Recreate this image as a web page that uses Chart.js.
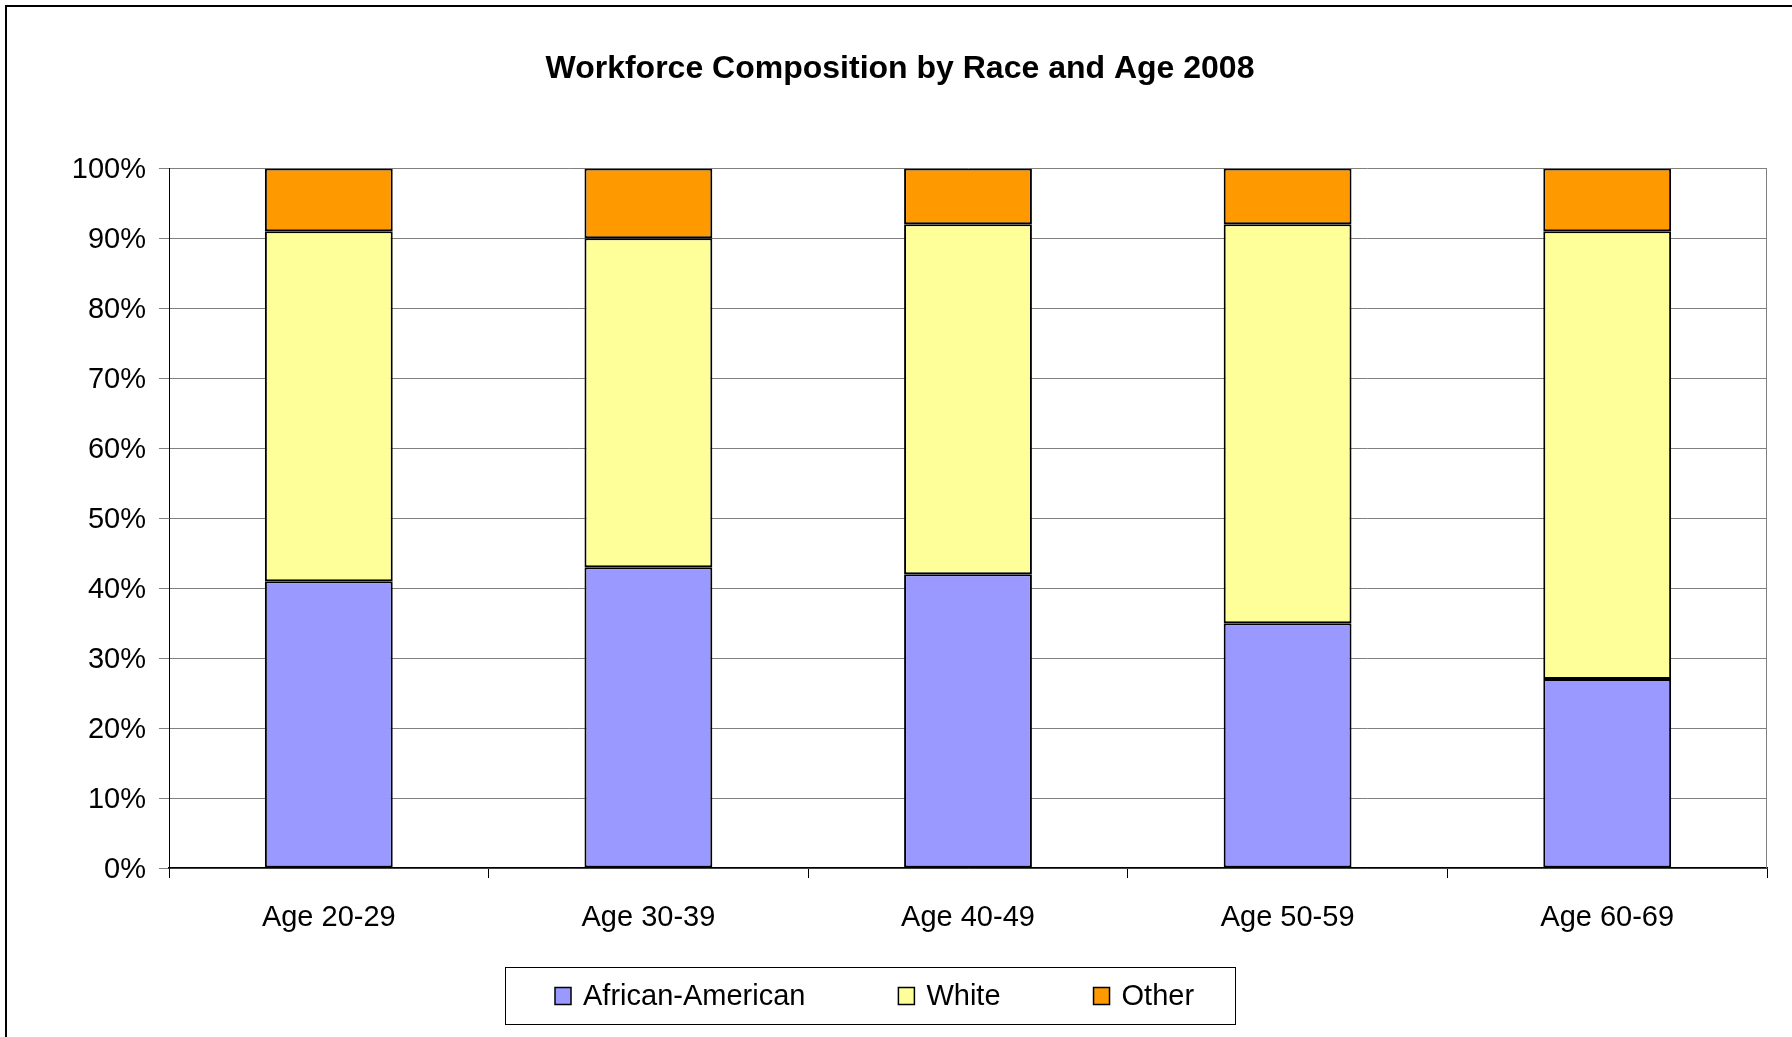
<!DOCTYPE html>
<html><head><meta charset="utf-8">
<script src="https://cdn.jsdelivr.net/npm/chart.js@4.4.1/dist/chart.umd.min.js"></script>
<style>html,body{margin:0;padding:0;background:#fff;overflow:hidden}#wrap{position:relative;width:1792px;height:1037px}</style>
</head><body><div id="wrap"><canvas id="c" width="1792" height="1037"></canvas></div>
<script>
const categories = ['Age 20-29', 'Age 30-39', 'Age 40-49', 'Age 50-59', 'Age 60-69'];
const seriesNames = ['African-American', 'White', 'Other'];
const africanAmerican = [41, 43, 42, 35, 27];
const white = [50, 47, 50, 57, 64];
const other = [9, 10, 8, 8, 9];
const seriesColors = ['#9999FF', '#FFFF99', '#FF9900'];
const titleText = 'Workforce Composition by Race and Age 2008';

const FONT = '"Liberation Sans", Arial, Helvetica, sans-serif';

const framePlugin = {
  id: 'frame',
  beforeDraw(chart) {
    const ctx = chart.ctx;
    ctx.save();
    ctx.fillStyle = '#fff';
    ctx.fillRect(0, 0, chart.width, chart.height);
    ctx.strokeStyle = '#000';
    ctx.lineWidth = 2;
    ctx.beginPath();
    ctx.moveTo(6, chart.height + 5);
    ctx.lineTo(6, 6);
    ctx.lineTo(chart.width + 5, 6);
    ctx.stroke();
    ctx.restore();
  },
  afterDraw(chart) {
    const ctx = chart.ctx;
    const a = chart.chartArea;
    ctx.save();
    // right edge of plot area
    ctx.strokeStyle = '#808080';
    ctx.lineWidth = 1;
    ctx.beginPath();
    ctx.moveTo(Math.round(a.right) - 0.5, a.top);
    ctx.lineTo(Math.round(a.right) - 0.5, a.bottom);
    ctx.stroke();
    // legend
    const lx = 505, ly = 967, lw = 730, lh = 57;
    ctx.strokeStyle = '#000';
    ctx.lineWidth = 1;
    ctx.strokeRect(lx + 0.5, ly + 0.5, lw, lh);
    ctx.font = '29px ' + FONT;
    ctx.textBaseline = 'middle';
    ctx.textAlign = 'left';
    let x = 555;
    const cy = ly + lh / 2 + 0.5;
    chart.data.datasets.forEach((ds) => {
      ctx.fillStyle = ds.backgroundColor;
      ctx.fillRect(x, cy - 8.5, 16, 17);
      ctx.strokeStyle = '#000';
      ctx.lineWidth = 1.5;
      ctx.strokeRect(x, cy - 8.5, 16, 17);
      ctx.fillStyle = '#000';
      ctx.fillText(ds.label, x + 28, cy + 1);
      x += 28 + ctx.measureText(ds.label).width + 93;
    });
    ctx.restore();
  }
};

const datasets = [africanAmerican, white, other].map((vals, i) => ({
  label: seriesNames[i],
  data: vals,
  backgroundColor: seriesColors[i],
  borderColor: '#000',
  borderWidth: 2,
  borderSkipped: false,
  barPercentage: 0.4,
  categoryPercentage: 1.0,
  yAxisID: 'y'
}));

new Chart(document.getElementById('c'), {
  type: 'bar',
  data: { labels: categories, datasets },
  plugins: [framePlugin],
  options: {
    responsive: false,
    animation: false,
    devicePixelRatio: 1,
    layout: { padding: { left: 8, right: 0, top: 0, bottom: 0 } },
    plugins: {
      legend: { display: false },
      tooltip: { enabled: false },
      title: {
        display: true,
        text: titleText,
        color: '#000',
        font: { family: FONT, size: 32, weight: 'bold' },
        padding: { top: 50, bottom: 80 }
      }
    },
    scales: {
      x: {
        stacked: true,
        offset: true,
        grid: { display: true, drawOnChartArea: false, drawTicks: true, tickLength: 10, color: '#000', offset: true },
        border: { display: true, color: '#000', width: 1.5 },
        ticks: { color: '#000', font: { family: FONT, size: 29 }, padding: 23, maxRotation: 0 },
        afterFit(scale) { scale.height = 169; }
      },
      y: {
        stacked: true,
        min: 0,
        max: 100,
        grid: { color: '#808080', lineWidth: 1, drawTicks: true, tickLength: 10 },
        border: { display: true, color: '#000', width: 1 },
        ticks: { stepSize: 10, color: '#000', font: { family: FONT, size: 29 }, padding: 13, labelOffset: 2, callback: (v) => v + '%' },
        afterFit(scale) { scale.width = 161; }
      },
      yRight: {
        position: 'right',
        min: 0,
        max: 100,
        grid: { display: false },
        border: { display: false },
        ticks: { display: false },
        afterFit(scale) { scale.width = 25; }
      }
    }
  }
});
</script></body></html>
